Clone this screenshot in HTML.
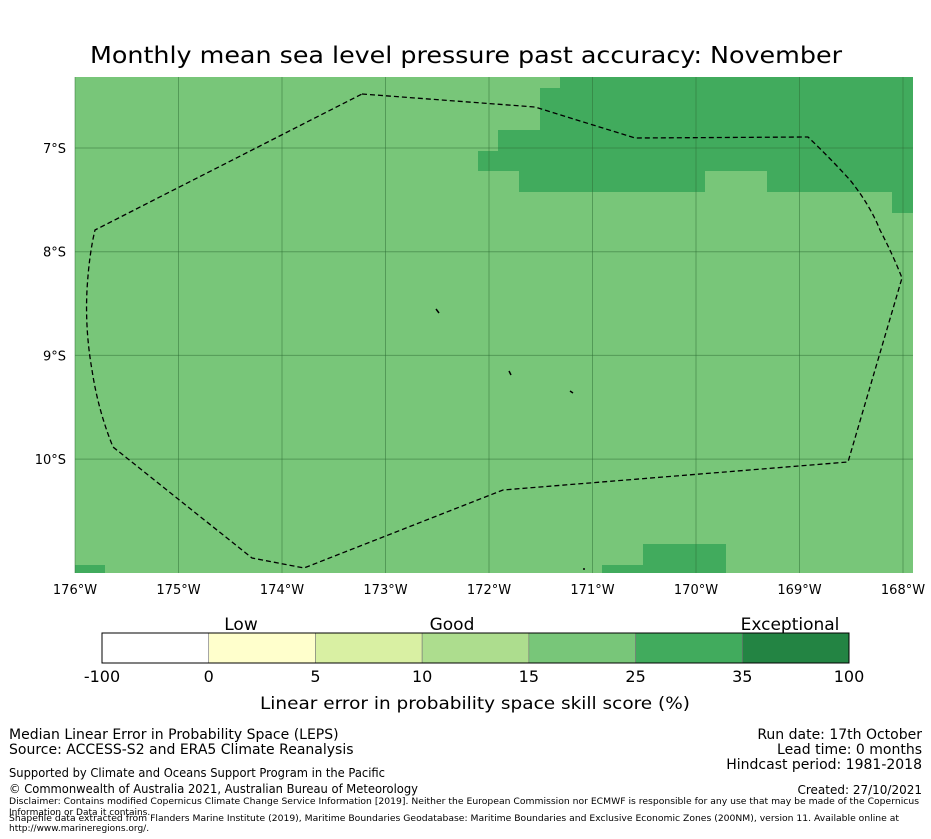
<!DOCTYPE html>
<html><head><meta charset="utf-8"><style>
body{margin:0;background:#fff}
svg{display:block;font-family:"DejaVu Sans","Liberation Sans",sans-serif}
</style></head><body>
<svg width="931" height="839" viewBox="0 0 931 839">
<text x="466" y="63" font-size="23" text-anchor="middle" textLength="752" lengthAdjust="spacingAndGlyphs">Monthly mean sea level pressure past accuracy: November</text>
<g id="map">
<rect x="75" y="77" width="838" height="496" fill="#78c679"/>
<g fill="#41ab5d">
<rect x="560" y="77" width="353" height="12"/>
<rect x="540" y="88" width="373" height="43"/>
<rect x="498" y="130" width="415" height="21"/>
<rect x="478" y="151" width="435" height="20"/>
<rect x="519" y="171" width="186" height="21"/>
<rect x="767" y="171" width="146" height="21"/>
<rect x="892" y="191" width="21" height="22"/>
<rect x="643" y="544" width="83" height="29"/>
<rect x="602" y="565" width="42" height="8"/>
<rect x="75" y="565" width="30" height="8"/>
</g>
<g id="grid" stroke="#2d6e35" stroke-opacity="0.5" stroke-width="1"></g>
<path d="M362,94 L535,107 L635,138 L808,137 Q830,158 850,180 Q870,205 880,230 Q893,255 902,278 L848,462 L503,490 L304,568 L252,558 L113,447 Q98,410 92,370 Q85,330 87,290 Q89,255 95,230 Z" fill="none" stroke="#000" stroke-width="1.3" stroke-dasharray="5,3"/>
<g stroke="#000" stroke-width="1.5">
<path d="M436,309 L439,313"/><path d="M509,371 L511,375"/><path d="M570,391 L573,393"/><path d="M583,569 L585,569"/>
</g>
</g>
<g id="xlabels" font-size="13" text-anchor="middle"></g>
<g id="ylabels" font-size="13" text-anchor="end"></g>
<g id="cbar"></g>
<g font-size="17" text-anchor="middle">
<text x="241" y="630">Low</text><text x="452" y="630">Good</text><text x="790" y="630">Exceptional</text>
</g>
<text x="475" y="709" font-size="17" text-anchor="middle" textLength="430" lengthAdjust="spacingAndGlyphs">Linear error in probability space skill score (%)</text>
<g font-size="14">
<text x="9" y="739">Median Linear Error in Probability Space (LEPS)</text>
<text x="9" y="754">Source: ACCESS-S2 and ERA5 Climate Reanalysis</text>
</g>
<g font-size="14" text-anchor="end">
<text x="922" y="739">Run date: 17th October</text>
<text x="922" y="754">Lead time: 0 months</text>
<text x="922" y="769">Hindcast period: 1981-2018</text>
<text x="922" y="794" font-size="12">Created: 27/10/2021</text>
</g>
<g font-size="12">
<text x="9" y="777" textLength="376" lengthAdjust="spacingAndGlyphs">Supported by Climate and Oceans Support Program in the Pacific</text>
<text x="9" y="793" textLength="409" lengthAdjust="spacingAndGlyphs">© Commonwealth of Australia 2021, Australian Bureau of Meteorology</text>
</g>
<g font-size="9">
<text x="9" y="804" textLength="910" lengthAdjust="spacingAndGlyphs">Disclaimer: Contains modified Copernicus Climate Change Service Information [2019]. Neither the European Commission nor ECMWF is responsible for any use that may be made of the Copernicus</text>
<text x="9" y="815">Information or Data it contains.</text>
<text x="9" y="821" textLength="890" lengthAdjust="spacingAndGlyphs">Shapefile data extracted from Flanders Marine Institute (2019), Maritime Boundaries Geodatabase: Maritime Boundaries and Exclusive Economic Zones (200NM), version 11. Available online at</text>
<text x="9" y="831">http://www.marineregions.org/.</text>
</g>
</svg>
<script>
const lonTicks=[-176,-175,-174,-173,-172,-171,-170,-169,-168];
const latTicks=[-7,-8,-9,-10];
const cbarBounds=["-100","0","5","10","15","25","35","100"];
const cbarColors=["#ffffff","#ffffcc","#d9f0a3","#addd8e","#78c679","#41ab5d","#238443"];
const NS="http://www.w3.org/2000/svg";
const xS=lon=>75+(lon+176)*103.5;
const yS=lat=>148+(-7-lat)*103.7;
const grid=document.getElementById('grid'),xl=document.getElementById('xlabels'),yl=document.getElementById('ylabels');
lonTicks.forEach(l=>{
 const ln=document.createElementNS(NS,'line');
 ln.setAttribute('x1',xS(l));ln.setAttribute('x2',xS(l));ln.setAttribute('y1',77);ln.setAttribute('y2',573);
 
 
 grid.appendChild(ln);
 const t=document.createElementNS(NS,'text');
 t.setAttribute('x',xS(l));t.setAttribute('y',594);t.textContent=Math.abs(l)+'°W';
 
 
 xl.appendChild(t);
});
latTicks.forEach(l=>{
 const ln=document.createElementNS(NS,'line');
 ln.setAttribute('x1',75);ln.setAttribute('x2',913);ln.setAttribute('y1',yS(l));ln.setAttribute('y2',yS(l));
 
 
 grid.appendChild(ln);
 const t=document.createElementNS(NS,'text');
 t.setAttribute('x',66);t.setAttribute('y',yS(l)+5);t.textContent=Math.abs(l)+'°S';
 
 
 yl.appendChild(t);
});
const cb=document.getElementById('cbar');
const cx0=102,cw=(849-102)/cbarColors.length;
cbarColors.forEach((c,i)=>{
 const r=document.createElementNS(NS,'rect');
 r.setAttribute('x',cx0+i*cw);r.setAttribute('y',633);r.setAttribute('width',cw);r.setAttribute('height',30);
 r.setAttribute('fill',c);r.setAttribute('stroke','#777');r.setAttribute('stroke-width','0.6');
 
 
 cb.appendChild(r);
});
const fr=document.createElementNS(NS,'rect');
fr.setAttribute('x',cx0);fr.setAttribute('y',633);fr.setAttribute('width',cw*7);fr.setAttribute('height',30);
fr.setAttribute('fill','none');fr.setAttribute('stroke','#000');fr.setAttribute('stroke-width','1');


cb.appendChild(fr);
cbarBounds.forEach((b,i)=>{
 const t=document.createElementNS(NS,'text');
 t.setAttribute('x',cx0+i*cw);t.setAttribute('y',682);t.setAttribute('font-size','16');t.setAttribute('text-anchor','middle');
 t.textContent=b;
 
 
 cb.appendChild(t);
});
</script>
</body></html>
